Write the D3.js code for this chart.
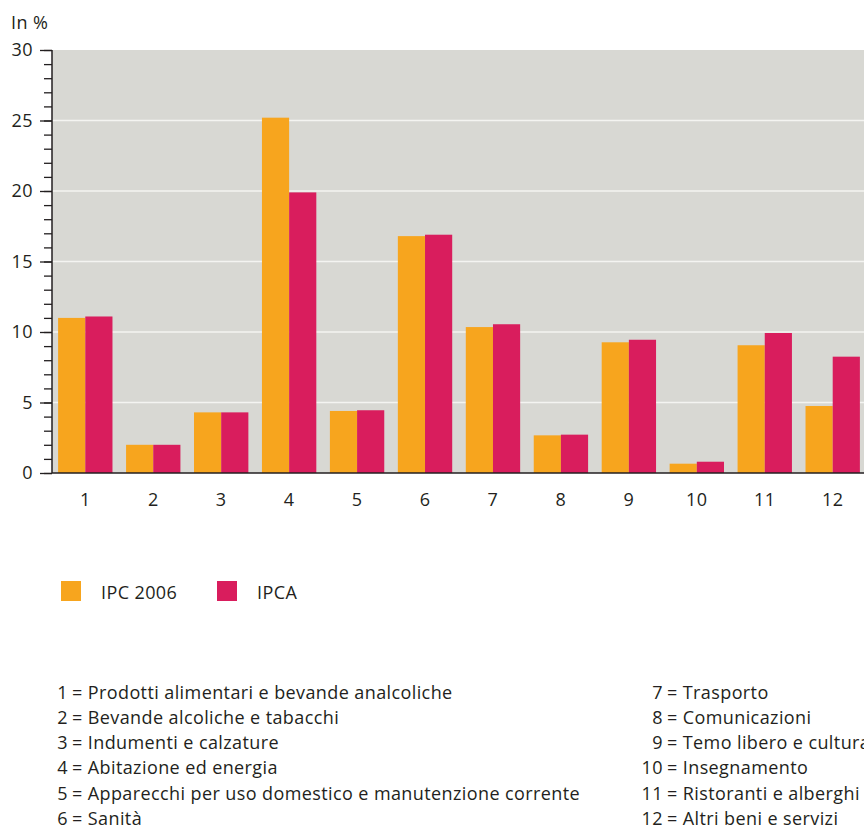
<!DOCTYPE html>
<html>
<head>
<meta charset="utf-8">
<script src="https://cdn.jsdelivr.net/npm/d3@7"></script>
<style>
  body { margin: 0; background: #fff; }
  svg { display: block; font-family: "Open Sans", "Lato", sans-serif; }
  text { fill: #231f20; letter-spacing: 0.4px; }
</style>
</head>
<body>
<div id="chart"></div>
<script>
const categories = ["1", "2", "3", "4", "5", "6", "7", "8", "9", "10", "11", "12"];
const ipc2006 = [11.0, 2.0, 4.3, 25.2, 4.4, 16.8, 10.35, 2.67, 9.27, 0.66, 9.06, 4.75];
const ipca = [11.1, 2.0, 4.3, 19.9, 4.45, 16.9, 10.55, 2.72, 9.45, 0.8, 9.93, 8.25];
const seriesNames = ["IPC 2006", "IPCA"];
const yTicks = [0, 5, 10, 15, 20, 25, 30];
const categoryNames = [
  "Prodotti alimentari e bevande analcoliche",
  "Bevande alcoliche e tabacchi",
  "Indumenti e calzature",
  "Abitazione ed energia",
  "Apparecchi per uso domestico e manutenzione corrente",
  "Sanità",
  "Trasporto",
  "Comunicazioni",
  "Temo libero e cultura",
  "Insegnamento",
  "Ristoranti e alberghi",
  "Altri beni e servizi"
];

const colors = ["#f7a51e", "#d91d5d"];
const W = 864, H = 828;
const plot = { left: 52, right: 864, top: 50, bottom: 473 };
const fs = 18;

const svg = d3.select("#chart").append("svg")
  .attr("width", W).attr("height", H);

const x = d3.scaleBand().domain(categories)
  .range([52, 866]).paddingInner(0.2).paddingOuter(0.09);
const xs = d3.scaleBand().domain([0, 1]).range([0, x.bandwidth()]);
const y = d3.scaleLinear().domain([0, 30]).range([plot.bottom, plot.top]);

// background
svg.append("rect")
  .attr("x", plot.left).attr("y", plot.top)
  .attr("width", plot.right - plot.left).attr("height", plot.bottom - plot.top)
  .attr("fill", "#d8d8d3");

// grid
svg.append("g").selectAll("line")
  .data(yTicks.filter(d => d > 0 && d < 30))
  .join("line")
  .attr("x1", plot.left).attr("x2", plot.right)
  .attr("y1", d => y(d)).attr("y2", d => y(d))
  .attr("stroke", "#f4f4f1").attr("stroke-width", 1.5);

// bars
const rows = categories.map((c, i) => ({ c, vals: [ipc2006[i], ipca[i]] }));
const groups = svg.append("g").selectAll("g")
  .data(rows).join("g")
  .attr("transform", d => `translate(${x(d.c)},0)`);
groups.selectAll("rect")
  .data(d => d.vals.map((v, k) => ({ v, k })))
  .join("rect")
  .attr("x", d => xs(d.k))
  .attr("width", xs.bandwidth())
  .attr("y", d => y(d.v))
  .attr("height", d => y(0) - y(d.v))
  .attr("fill", d => colors[d.k]);

// y axis with minor ticks
const yAxis = svg.append("g").attr("transform", `translate(${plot.left},0)`);
yAxis.call(d3.axisLeft(y).ticks(30).tickSize(8).tickFormat(""))
  .call(g => g.select(".domain").remove());
yAxis.append("g")
  .call(d3.axisLeft(y).tickValues(yTicks).tickSize(12).tickPadding(7))
  .call(g => g.select(".domain").remove())
  .call(g => g.selectAll("text").attr("font-size", fs)
    .attr("font-family", "Open Sans").style("fill", "#231f20"));
yAxis.selectAll("line").attr("stroke", "#231f20").attr("stroke-width", 1.3);
yAxis.append("line")
  .attr("y1", plot.top).attr("y2", plot.bottom)
  .attr("stroke", "#231f20").attr("stroke-width", 1.5);

// baseline
svg.append("line")
  .attr("x1", plot.left).attr("x2", plot.right)
  .attr("y1", y(0)).attr("y2", y(0))
  .attr("stroke", "#231f20").attr("stroke-width", 1.5);

// x labels
svg.append("g").selectAll("text")
  .data(categories).join("text")
  .attr("x", d => x(d) + x.bandwidth() / 2)
  .attr("y", 506)
  .attr("text-anchor", "middle")
  .attr("font-size", fs)
  .text(d => d);

svg.append("text").attr("x", 11).attr("y", 29)
  .attr("font-size", fs).text("In %");

// legend
const leg = svg.append("g").selectAll("g")
  .data(seriesNames).join("g")
  .attr("transform", (d, i) => `translate(${61 + i * 156},581)`);
leg.append("rect").attr("width", 20).attr("height", 20)
  .attr("fill", (d, i) => colors[i]);
leg.append("text").attr("x", 40).attr("y", 18)
  .attr("font-size", fs).text(d => d);

// category key
const key = svg.append("g").selectAll("g")
  .data(categoryNames).join("g")
  .attr("transform", (d, i) => i < 6
    ? `translate(71,${698.5 + i * 25.3})`
    : `translate(666,${698.5 + (i - 6) * 25.3})`);
key.append("text").attr("text-anchor", "end").attr("x", -3)
  .attr("font-size", fs).text((d, i) => i + 1);
key.append("text").attr("x", 1)
  .attr("font-size", fs).text(d => "= " + d);
</script>
</body>
</html>
